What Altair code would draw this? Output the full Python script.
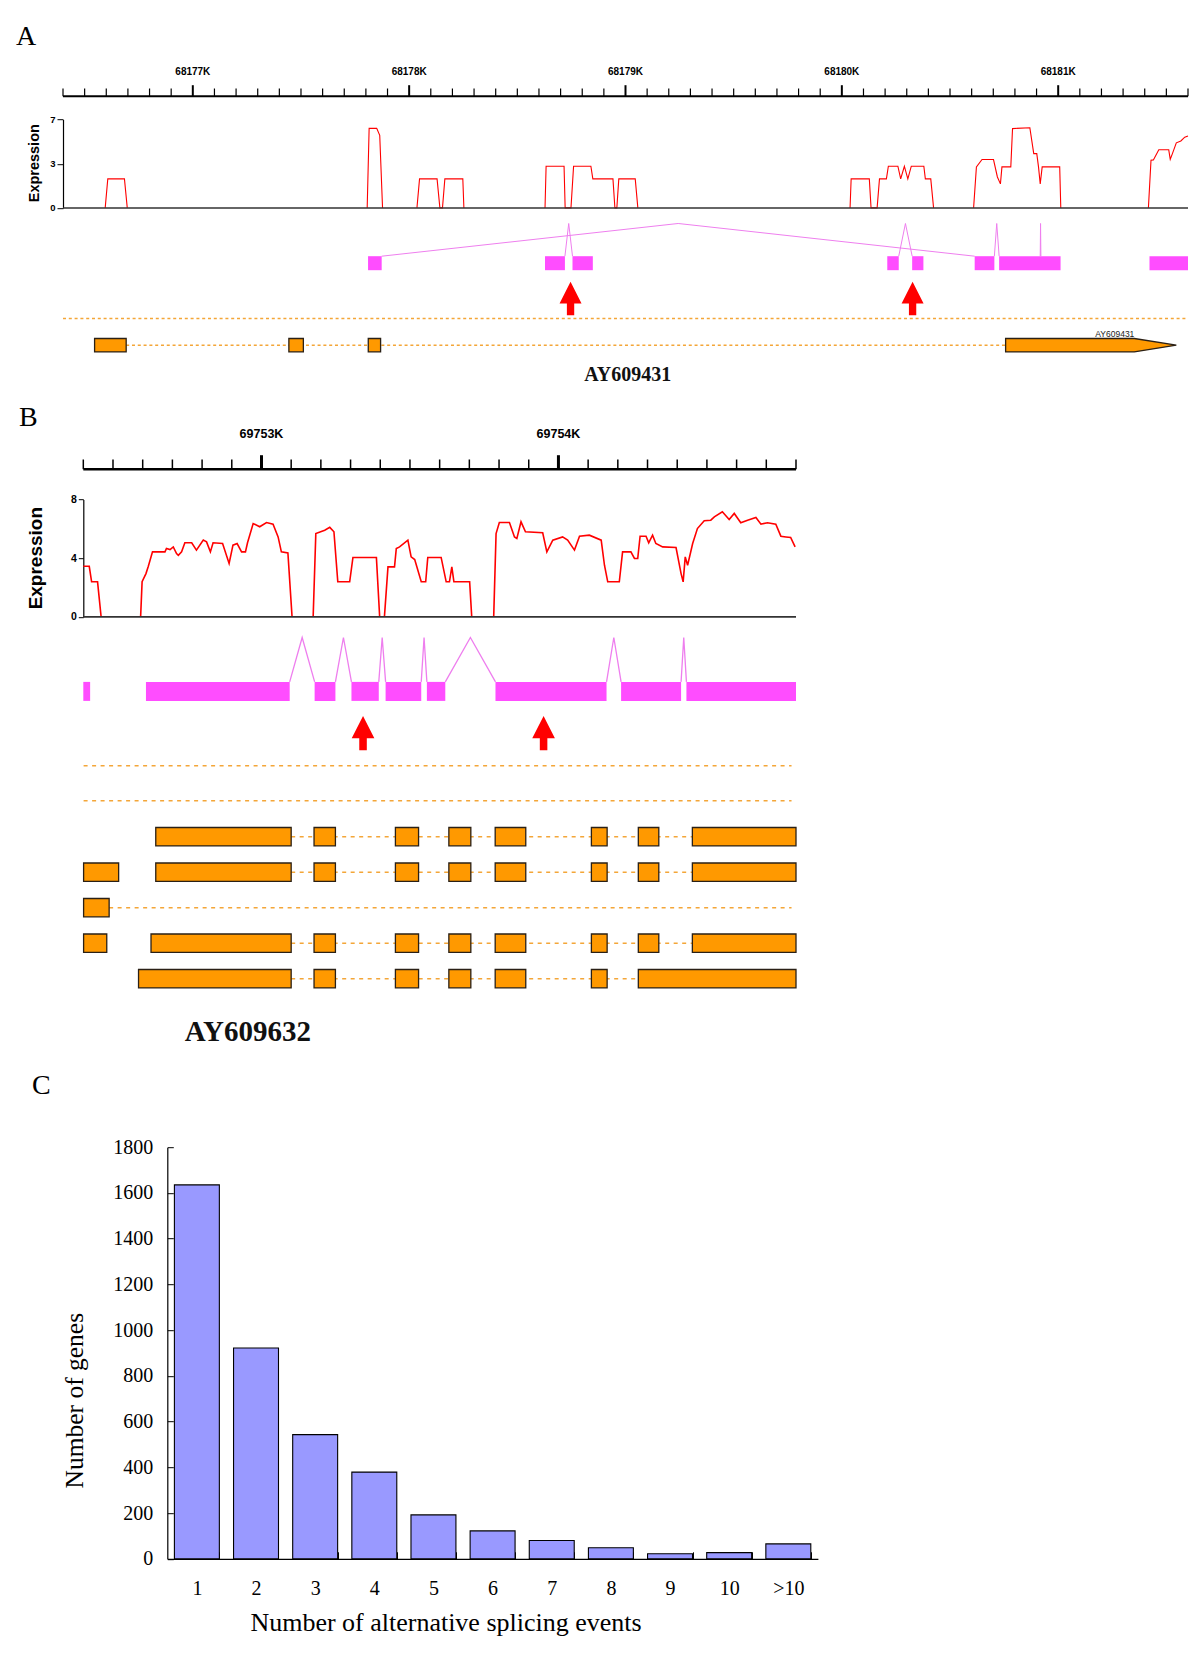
import altair as alt
import pandas as pd

# ---------------------------------------------------------------- fonts / colours
SANS = "Liberation Sans, Arial, sans-serif"
SERIF = "Liberation Serif, Times New Roman, serif"
RED = "#FF0000"
MAGENTA = "#FF4DFF"
VIOLET = "#EE7EEE"
ORANGE = "#FF9900"
DASHC = "#F4A638"
EDGE = "#2A2016"
BAR = "#9999FF"
ARROW_PATH = "M0,-1L0.66,0.3L0.22,0.3L0.22,1L-0.22,1L-0.22,0.3L-0.66,0.3Z"

# ---------------------------------------------------------------- panel A data
A_START, A_END = 68176400, 68181600
A_TICKS = list(range(A_START, A_END + 1, 100))
A_EXPR = [
    [(68176595, 0), (68176607, 2.3), (68176684, 2.3), (68176697, 0)],
    [(68177806, 0), (68177815, 6.3), (68177850, 6.3), (68177864, 5.75), (68177877, 0)],
    [(68178036, 0), (68178048, 2.3), (68178129, 2.3), (68178142, 0), (68178154, 0),
     (68178165, 2.3), (68178248, 2.3), (68178253, 0)],
    [(68178628, 0), (68178633, 3.3), (68178716, 3.3), (68178721, 0), (68178748, 0),
     (68178760, 3.3), (68178840, 3.3), (68178849, 2.3), (68178942, 2.3), (68178951, 0),
     (68178960, 0), (68178969, 2.3), (68179045, 2.3), (68179057, 0)],
    [(68180038, 0), (68180043, 2.3), (68180127, 2.3), (68180135, 0), (68180163, 0),
     (68180174, 2.3), (68180206, 2.3), (68180215, 3.3), (68180259, 3.3), (68180272, 2.3),
     (68180289, 3.3), (68180305, 2.3), (68180321, 3.3), (68180379, 3.3), (68180386, 2.3),
     (68180411, 2.3), (68180424, 0)],
    [(68180609, 0), (68180622, 3.25), (68180648, 3.83), (68180701, 3.83), (68180719, 2.45),
     (68180733, 1.9), (68180740, 3.25), (68180781, 3.25), (68180789, 6.28), (68180869, 6.35),
     (68180887, 4.3), (68180901, 4.3), (68180909, 3.25), (68180917, 1.9), (68180926, 3.25),
     (68181007, 3.25), (68181012, 0)],
    [(68181417, 0), (68181429, 3.78), (68181440, 3.8), (68181465, 4.6), (68181511, 4.6),
     (68181518, 3.85), (68181528, 4.3), (68181546, 5.15), (68181567, 5.3), (68181585, 5.6),
     (68181600, 5.7)],
]
A_BOX_START = [68177810, 68178628, 68178755, 68180210, 68180325, 68180614, 68180727, 68181422]
A_BOX_END = [68177873, 68178720, 68178849, 68180263, 68180377, 68180705, 68181011, 68181600]
A_JUNCTIONS = [(68177873, 68180614), (68178720, 68178755), (68180263, 68180325),
               (68180705, 68180727), (68180917, 68180920)]
A_ARROWS = [68178746, 68180327]
A_EMPTY_ROWS = [(A_START, A_END)]
A_EXONS = [[(68176546, 68176692), (68177444, 68177511), (68177811, 68177868)]]
A_INTRONS = [(68176692, 68180757)]
A_POINTED_EXON = (68180757, 68181352, 68181546)   # start, end of body, tip
A_GENE = "AY609431"
A_GENE_POS = 68179010

# ---------------------------------------------------------------- panel B data
B_START, B_END = 69752400, 69754800
B_TICKS = list(range(B_START, B_END + 1, 100))
B_EXPR = [
    [(69752400, 3.45), (69752420, 3.45), (69752428, 2.39), (69752448, 2.39), (69752460, 0)],
    [(69752593, 0), (69752598, 2.4), (69752611, 2.95), (69752619, 3.45), (69752633, 4.43),
     (69752675, 4.43), (69752680, 4.66), (69752692, 4.59), (69752703, 4.77), (69752714, 4.32),
     (69752720, 4.2), (69752731, 4.43), (69752742, 5.05), (69752765, 5.05), (69752781, 4.55),
     (69752804, 5.23), (69752815, 5.11), (69752828, 4.43), (69752837, 5.05), (69752869, 5.0),
     (69752891, 3.64), (69752904, 4.89), (69752918, 5.0), (69752933, 4.43), (69752946, 4.43),
     (69752953, 5.05), (69752972, 6.36), (69752994, 6.14), (69753017, 6.43), (69753039, 6.32),
     (69753056, 5.45), (69753067, 4.43), (69753089, 4.36), (69753103, 0)],
    [(69753174, 0), (69753183, 5.68), (69753213, 5.9), (69753230, 6.1), (69753244, 5.8),
     (69753257, 2.39), (69753297, 2.39), (69753308, 4.05), (69753387, 4.05), (69753398, 0)],
    [(69753414, 0), (69753426, 3.41), (69753448, 3.41), (69753454, 4.66), (69753465, 4.77),
     (69753493, 5.23), (69753504, 4.09), (69753516, 3.91), (69753538, 2.39), (69753553, 2.39),
     (69753560, 4.05), (69753605, 4.05), (69753622, 2.39), (69753633, 2.39), (69753641, 3.41),
     (69753648, 2.39), (69753701, 2.39), (69753708, 0)],
    [(69753782, 0), (69753790, 5.68), (69753801, 6.43), (69753835, 6.43), (69753852, 5.45),
     (69753860, 5.34), (69753874, 6.48), (69753889, 5.8), (69753947, 5.73), (69753961, 4.43),
     (69753981, 5.23), (69754014, 5.45), (69754031, 5.23), (69754054, 4.55), (69754071, 5.5),
     (69754104, 5.57), (69754144, 5.23), (69754155, 3.52), (69754166, 2.39), (69754205, 2.39),
     (69754216, 4.43), (69754244, 4.43), (69754256, 3.98), (69754267, 3.98), (69754275, 5.5),
     (69754295, 5.5), (69754304, 5.05), (69754317, 5.57), (69754328, 5.0), (69754351, 4.77),
     (69754396, 4.73), (69754413, 2.95), (69754420, 2.39), (69754427, 4.09), (69754435, 3.52),
     (69754452, 5.0), (69754468, 6.02), (69754491, 6.55), (69754513, 6.59), (69754525, 6.82),
     (69754552, 7.16), (69754575, 6.64), (69754592, 7.05), (69754614, 6.41), (69754637, 6.59),
     (69754665, 6.77), (69754682, 6.32), (69754704, 6.41), (69754732, 6.32), (69754749, 5.5),
     (69754766, 5.45), (69754782, 5.41), (69754797, 4.77)],
]
B_BOX_START = [69752400, 69752611, 69753179, 69753303, 69753418, 69753557, 69753788, 69754211, 69754431]
B_BOX_END = [69752423, 69753095, 69753249, 69753395, 69753538, 69753619, 69754162, 69754413, 69754800]
B_JUNCTIONS = [(69753095, 69753179), (69753249, 69753303), (69753395, 69753418),
               (69753538, 69753557), (69753619, 69753788), (69754162, 69754211),
               (69754413, 69754431)]
B_ARROWS = [69753342, 69753950]
B_COMMON = [(69752644, 69753100), (69753177, 69753249), (69753451, 69753529),
            (69753631, 69753705), (69753787, 69753890), (69754111, 69754164),
            (69754269, 69754338), (69754451, 69754800)]
B_EMPTY_ROWS = [(69752401, 69754785), (69752401, 69754785)]
B_EXONS = [
    B_COMMON,
    [(69752401, 69752519)] + B_COMMON,
    [(69752401, 69752487)],
    [(69752401, 69752479), (69752628, 69753100)] + B_COMMON[1:],
    [(69752586, 69753100)] + B_COMMON[1:6] + [(69754269, 69754800)],
]
B_INTRONS = [(69753100, 69754451), (69753100, 69754451), (69752487, 69754785),
             (69753100, 69754451), (69753100, 69754269)]
B_GENE = "AY609632"
B_GENE_POS = 69752954

# ---------------------------------------------------------------- panel C data
C_CATS = ["1", "2", "3", "4", "5", "6", "7", "8", "9", "10", ">10"]
C_COUNTS = [1635, 922, 543, 379, 192, 122, 80, 48, 22, 27, 65]

# ---------------------------------------------------------------- layouts (px)
PANEL_W = 1125
LAY_A = dict(letter="A", start=A_START, end=A_END, ticks=A_TICKS, width=PANEL_W, height=373,
             xrange=[0, PANEL_W], emax=7, evals=[0, 3.5, 7], e0=111.7, etop=23.3, yoff=0,
             major=11, minor=7.7, majorw=2, minorw=1.2, domainw=2, rlab=10, rlab_y=-24,
             ylab=9.5, ytick=6, ytitle=14.5, ytitle_x=-25, ytitle_y=66.5,
             lw=1.1, base_w=1.5,
             box=(160, 174), peak=127.3, jw=1.0, arrow_y=202.3, arrow_size=1109,
             rows=[222.3, 249], half=6.7, dash=[3, 2.8], dash_w=1.4,
             gene_y=279, gene_size=20, tdx=-47, toff=-5.5)
LAY_B = dict(letter="B", start=B_START, end=B_END, ticks=B_TICKS, width=PANEL_W, height=677.7,
             xrange=[20.3, 733], emax=8, evals=[0, 4, 8], e0=147.7, etop=30.3, yoff=-20.3,
             major=14, minor=9.7, majorw=3, minorw=1.5, domainw=2.5, rlab=12.5, rlab_y=-35,
             ylab=10.5, ytick=5, ytitle=19, ytitle_x=-41.7, ytitle_y=88.5,
             lw=1.6, base_w=1.8,
             box=(212.7, 231.7), peak=168.3, jw=1.3, arrow_y=264, arrow_size=1176,
             rows=[296.5, 331.5, 367.5, 403, 438.5, 474, 509.5], half=9.2, dash=[4, 4.5], dash_w=1.6,
             gene_y=563, gene_size=29, tdx=-44, toff=-25.75)


def title(letter, dx, off):
    return alt.TitleParams(text=letter, anchor="start", frame="group", font=SERIF, fontSize=28,
                           fontWeight="normal", color="black", dx=dx, offset=off,
                           baseline="alphabetic")


def genome_panel(p, empty_rows, exons, introns, expr, box_s, box_e, junctions, arrows,
                 gene, gene_pos, pointed=None):
    H = p["height"]
    xs = alt.Scale(domain=[p["start"], p["end"]], range=p["xrange"], nice=False, zero=False)
    ds = alt.Scale(domain=[0, H], range=[0, H], nice=False, zero=False)

    def X(field):
        return alt.X(field, scale=xs, axis=None)

    def D(field):
        return alt.Y(field, scale=ds, axis=None)

    def es():
        return alt.Scale(domain=[0, p["emax"]], range=[p["e0"], p["etop"]], nice=False, zero=False)

    # ruler (coordinate scale bar along the top)
    ticks = p["ticks"]
    majors = [t for t in ticks if t % 1000 == 0]
    minors = [t for t in ticks if t % 1000 != 0]
    ruler_line = alt.Chart(pd.DataFrame({"s": [p["start"]], "e": [p["end"]], "d": [0]})).mark_rule(
        color="black", strokeWidth=p["domainw"]).encode(x=X("s:Q"), x2="e:Q", y=D("d:Q"))
    minor_ticks = alt.Chart(pd.DataFrame({"pos": minors, "top": -p["minor"], "bot": 0})).mark_rule(
        color="black", strokeWidth=p["minorw"]).encode(x=X("pos:Q"), y=D("top:Q"), y2="bot:Q")
    major_ticks = alt.Chart(pd.DataFrame({"pos": majors, "top": -p["major"], "bot": 0})).mark_rule(
        color="black", strokeWidth=p["majorw"]).encode(x=X("pos:Q"), y=D("top:Q"), y2="bot:Q")
    ruler_labels = alt.Chart(pd.DataFrame({"pos": majors, "d": p["rlab_y"],
                                           "t": [f"{t // 1000}K" for t in majors]})).mark_text(
        font=SANS, fontWeight="bold", fontSize=p["rlab"], color="black",
        align="center", baseline="middle").encode(x=X("pos:Q"), y=D("d:Q"), text="t:N")

    yaxis = alt.Axis(
        orient="left", values=p["evals"], labelExpr="floor(datum.value)", offset=p["yoff"],
        grid=False, tickSize=p["ytick"], tickColor="black", domainColor="black", domainWidth=1.2,
        labelFont=SANS, labelFontWeight="bold", labelFontSize=p["ylab"], labelColor="black",
        labelPadding=2, title="Expression", titleFont=SANS, titleFontSize=p["ytitle"],
        titleFontWeight="bold", titleColor="black", titleX=p["ytitle_x"], titleY=p["ytitle_y"],
        titleBaseline="alphabetic", titleAlign="center", titleAngle=270)

    # expression profile
    erows = []
    for i, seg in enumerate(expr):
        for pos, val in seg:
            erows.append({"pos": pos, "val": val, "seg": i})
    line = alt.Chart(pd.DataFrame(erows)).mark_line(color=RED, strokeWidth=p["lw"]).encode(
        x=X("pos:Q"), y=alt.Y("val:Q", scale=es(), axis=yaxis), detail="seg:N")
    base = alt.Chart(pd.DataFrame({"s": [p["start"]], "e": [p["end"]], "v": [0]})).mark_rule(
        color="#333333", strokeWidth=p["base_w"]).encode(
        x=X("s:Q"), x2="e:Q", y=alt.Y("v:Q", scale=es(), axis=None))

    # junction track
    top, bot = p["box"]
    bdf = pd.DataFrame({"s": box_s, "e": box_e, "top": top, "bot": bot})
    boxes = alt.Chart(bdf).mark_rect(color=MAGENTA).encode(
        x=X("s:Q"), x2="e:Q", y=D("top:Q"), y2="bot:Q")
    jrows = []
    for j, (a, b) in enumerate(junctions):
        jrows += [{"pos": a, "d": top, "j": j}, {"pos": (a + b) / 2, "d": p["peak"], "j": j},
                  {"pos": b, "d": top, "j": j}]
    jl = alt.Chart(pd.DataFrame(jrows)).mark_line(color=VIOLET, strokeWidth=p["jw"]).encode(
        x=X("pos:Q"), y=D("d:Q"), detail="j:N")
    arr = alt.Chart(pd.DataFrame({"pos": arrows, "d": p["arrow_y"]})).mark_point(
        shape=ARROW_PATH, filled=True, fill=RED, color=RED, size=p["arrow_size"],
        opacity=1, strokeWidth=0).encode(x=X("pos:Q"), y=D("d:Q"))

    # transcript models
    rows = p["rows"]
    n_empty = len(empty_rows)
    drows = [{"s": s, "e": e, "d": rows[i]} for i, (s, e) in enumerate(empty_rows)]
    drows += [{"s": s, "e": e, "d": rows[n_empty + i]} for i, (s, e) in enumerate(introns)]
    dashes = alt.Chart(pd.DataFrame(drows)).mark_rule(
        color=DASHC, strokeDash=p["dash"], strokeWidth=p["dash_w"]).encode(
        x=X("s:Q"), x2="e:Q", y=D("d:Q"))
    xrows = []
    for i, ex in enumerate(exons):
        yc = rows[n_empty + i]
        for s, e in ex:
            xrows.append({"s": s, "e": e, "top": yc - p["half"], "bot": yc + p["half"]})
    ex_chart = alt.Chart(pd.DataFrame(xrows)).mark_rect(
        fill=ORANGE, stroke=EDGE, strokeWidth=1.3).encode(
        x=X("s:Q"), x2="e:Q", y=D("top:Q"), y2="bot:Q")
    layers = [line, base, ruler_line, minor_ticks, major_ticks, ruler_labels,
              jl, boxes, arr, dashes, ex_chart]

    if pointed is not None:
        s, body, tip = pointed
        yc = rows[n_empty]
        pdf = pd.DataFrame({"pos": [s, body, tip],
                            "top": [yc - p["half"], yc - p["half"], yc],
                            "bot": [yc + p["half"], yc + p["half"], yc]})
        area = alt.Chart(pdf).mark_area(fill=ORANGE, stroke=EDGE, strokeWidth=1.3, opacity=1).encode(
            x=X("pos:Q"), y=D("top:Q"), y2="bot:Q")
        small = alt.Chart(pd.DataFrame({"pos": [body], "d": [yc - p["half"] - 1.6], "t": [gene]})).mark_text(
            font=SANS, fontSize=8.5, color="#222222", align="right", baseline="alphabetic").encode(
            x=X("pos:Q"), y=D("d:Q"), text="t:N")
        layers += [area, small]

    name = alt.Chart(pd.DataFrame({"pos": [gene_pos], "d": [p["gene_y"]], "t": [gene]})).mark_text(
        font=SERIF, fontWeight="bold", fontSize=p["gene_size"], color="#111111",
        align="center", baseline="middle").encode(x=X("pos:Q"), y=D("d:Q"), text="t:N")
    layers.append(name)

    return alt.layer(*layers).resolve_scale(y="independent").properties(
        width=p["width"], height=H, title=title(p["letter"], p["tdx"], p["toff"]))


panel_a = genome_panel(LAY_A, A_EMPTY_ROWS, A_EXONS, A_INTRONS, A_EXPR, A_BOX_START, A_BOX_END,
                       A_JUNCTIONS, A_ARROWS, A_GENE, A_GENE_POS, pointed=A_POINTED_EXON)
panel_b = genome_panel(LAY_B, B_EMPTY_ROWS, B_EXONS, B_INTRONS, B_EXPR, B_BOX_START, B_BOX_END,
                       B_JUNCTIONS, B_ARROWS, B_GENE, B_GENE_POS)

# ---------------------------------------------------------------- panel C
cdf = pd.DataFrame({"cat": C_CATS, "n": C_COUNTS})
panel_c = alt.Chart(cdf).mark_bar(fill=BAR, stroke="black", strokeWidth=1.1).encode(
    x=alt.X("cat:N", sort=C_CATS,
            scale=alt.Scale(domain=C_CATS, range=[104.3, 754.9], paddingInner=0.24, paddingOuter=0.12),
            axis=alt.Axis(title="Number of alternative splicing events", labelAngle=0,
                          tickBand="extent", tickSize={"expr": "-7"}, tickColor="black",
                          domainColor="black", domainWidth=1.2, labelFont=SERIF, labelFontSize=20,
                          labelColor="black", labelPadding=27, titleFont=SERIF, titleFontSize=26,
                          titleFontWeight="normal", titleColor="black", titleX=382.5, titleY=72,
                          titleBaseline="alphabetic", titleAlign="center")),
    y=alt.Y("n:Q", scale=alt.Scale(domain=[0, 1800], nice=False),
            axis=alt.Axis(values=list(range(0, 1801, 200)), format="d", offset=-104.3,
                          tickSize={"expr": "-6"}, tickColor="black", domainColor="black",
                          domainWidth=1.2, grid=False, labelFont=SERIF, labelFontSize=20,
                          labelColor="black", labelPadding=20.5, title="Number of genes",
                          titleFont=SERIF, titleFontSize=25.5, titleFontWeight="normal",
                          titleColor="black", titleX=-85.3, titleY=253, titleBaseline="alphabetic",
                          titleAlign="center", titleAngle=270)),
).properties(width=PANEL_W, height=411.6, title=title("C", -31, 15.5))

chart = alt.vconcat(panel_a, panel_b, panel_c, spacing=0, bounds="flush").properties(
    padding={"left": 8, "top": 14.2, "right": 0, "bottom": 5}, background="white"
).configure_view(stroke=None)

chart.save("out.html", embed_options={"renderer": "svg", "actions": False})
